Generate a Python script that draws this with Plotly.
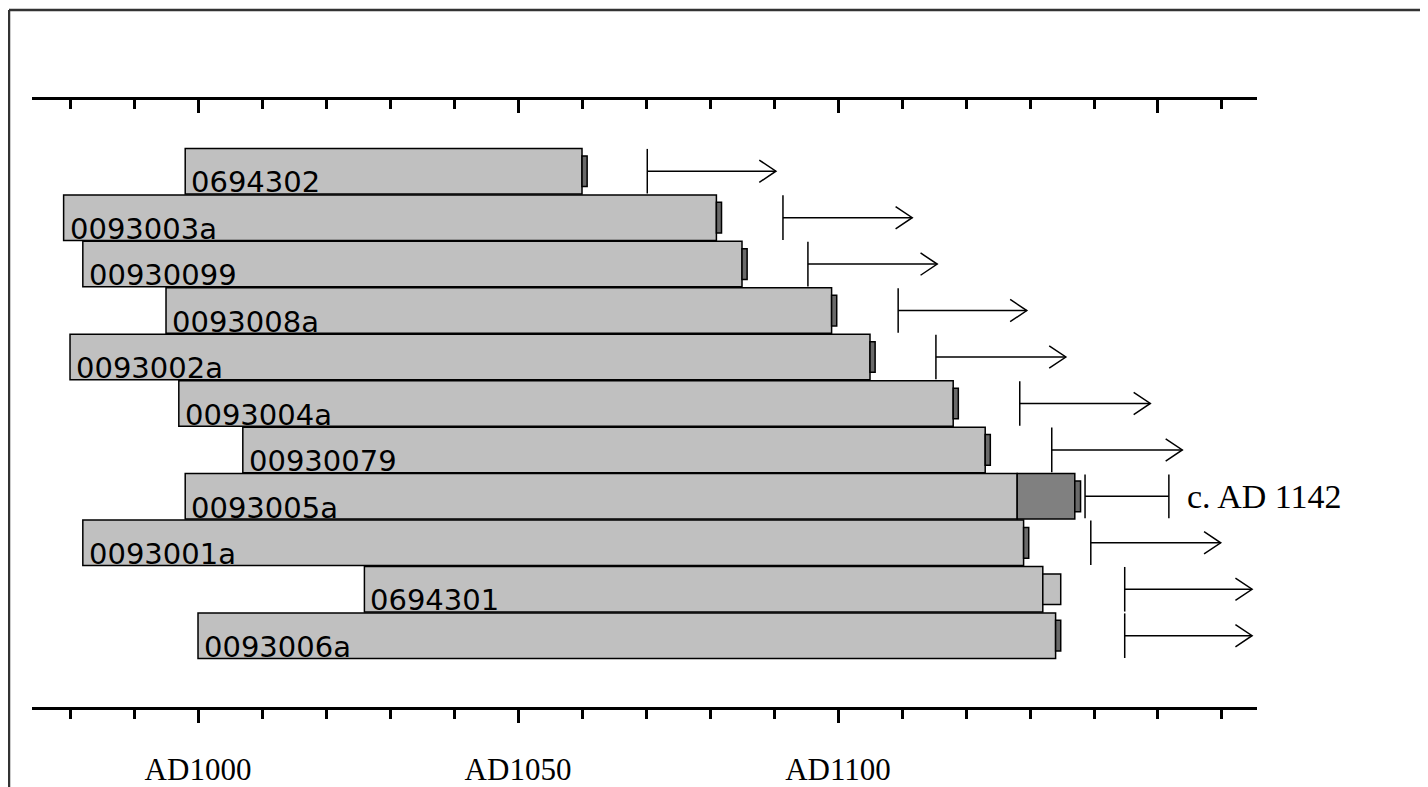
import plotly.graph_objects as go

# ---------------- data ----------------
sample_ids = ["0694302", "0093003a", "00930099", "0093008a", "0093002a", "0093004a",
              "00930079", "0093005a", "0093001a", "0694301", "0093006a"]
first_ring = [998, 979, 982, 995, 980, 997, 1007, 998, 982, 1026, 1000]
heartwood_end = [1060, 1081, 1085, 1099, 1105, 1118, 1123, 1128, 1129, 1132, 1134]

sapwood_rows = [7]
sapwood_start = [1128]
sapwood_end = [1137]

# small end-marker blocks (years)
marker_start = [1060, 1081, 1085, 1099, 1105, 1118, 1123, 1137, 1129, 1132, 1134]
marker_len = [0.8, 0.8, 0.8, 0.8, 0.8, 0.8, 0.8, 0.9, 0.8, 2.8, 0.8]

# terminus-post-quem arrows
arrow_rows = [0, 1, 2, 3, 4, 5, 6, 8, 9, 10]
arrow_start = [1070.2, 1091.4, 1095.3, 1109.4, 1115.3, 1128.4, 1133.4, 1139.5, 1144.8, 1144.8]
arrow_end = [1090.3, 1111.6, 1115.5, 1129.5, 1135.6, 1148.8, 1153.8, 1159.8, 1164.7, 1164.7]

# felling date range
felling_row = 7
felling_range = [1138.6, 1151.7]
felling_label = "c. AD 1142"

tick_years = [1000, 1050, 1100, 1150]
tick_labels = ["AD1000", "AD1050", "AD1100", ""]
minor_years = list(range(980, 1161, 10))

rows = list(range(len(sample_ids)))

# ---------------- figure ----------------
fig = go.Figure()

fig.add_trace(go.Bar(
    orientation="h", y=rows, base=first_ring,
    x=[e - s for s, e in zip(first_ring, heartwood_end)],
    width=0.98, marker=dict(color="#c0c0c0", line=dict(color="black", width=1.5)),
    hoverinfo="skip", showlegend=False))

fig.add_trace(go.Bar(
    orientation="h", y=sapwood_rows, base=sapwood_start,
    x=[e - s for s, e in zip(sapwood_start, sapwood_end)],
    width=0.98, marker=dict(color="#808080", line=dict(color="black", width=1.5)),
    hoverinfo="skip", showlegend=False))

marker_colors = ["#c0c0c0" if w > 2 else "#6a6a6a" for w in marker_len]
fig.add_trace(go.Bar(
    orientation="h", y=rows, base=marker_start, x=marker_len,
    width=0.66, marker=dict(color=marker_colors, line=dict(color="black", width=1.5)),
    hoverinfo="skip", showlegend=False))

# arrows: vertical start bar + shaft
lx, ly = [], []
for r, s, e in zip(arrow_rows, arrow_start, arrow_end):
    lx += [s, s, None, s, e, None]
    ly += [r - 0.48, r + 0.48, None, r, r, None]
# felling range
fs, fe = felling_range
lx += [fs, fs, None, fs, fe, None, fe, fe, None]
ly += [felling_row - 0.47, felling_row + 0.47, None, felling_row, felling_row, None,
       felling_row - 0.47, felling_row + 0.47, None]
fig.add_trace(go.Scatter(x=lx, y=ly, mode="lines", line=dict(color="black", width=1.5),
                         hoverinfo="skip", showlegend=False))

# open arrow heads
hx, hy = [], []
for r, e in zip(arrow_rows, arrow_end):
    hx += [e - 2.6, e, e - 2.6, None]
    hy += [r - 0.24, r, r + 0.24, None]
fig.add_trace(go.Scatter(x=hx, y=hy, mode="lines", line=dict(color="black", width=1.5),
                         hoverinfo="skip", showlegend=False))

annotations = []
for r, s, name in zip(rows, first_ring, sample_ids):
    annotations.append(dict(
        x=s, y=r + 0.5, xref="x", yref="y", text=name, showarrow=False,
        xanchor="left", yanchor="bottom", xshift=4, yshift=-7,
        font=dict(family="DejaVu Sans", size=29, color="black")))
annotations.append(dict(
    x=felling_range[1], y=felling_row, xref="x", yref="y", text=felling_label,
    showarrow=False, xanchor="left", yanchor="middle", xshift=16,
    font=dict(family="Liberation Serif", size=34, color="black")))

# page body adds an 8px offset; coordinates below are figure pixels
OFF = 8
W, H = 1428 - OFF, 787 - OFF
L, R, T, B = 32 - OFF, (W + OFF) - 1257, 100 - OFF, (H + OFF) - 707
pw, ph = W - L - R, H - T - B
px = lambda p: (p - OFF - L) / pw
py = lambda p: (H - B - (p - OFF)) / ph

shapes = [
    dict(type="line", xref="paper", yref="paper", x0=px(9), x1=px(9), y0=py(800), y1=py(10),
         line=dict(color="#333333", width=2.5)),
    dict(type="line", xref="paper", yref="paper", x0=px(9), x1=px(1440), y0=py(10), y1=py(10),
         line=dict(color="#333333", width=2.5)),
]

x_range = [974.06, 1165.47]
axis_common = dict(
    range=x_range, showgrid=False, zeroline=False, showline=True, linecolor="black",
    linewidth=3, tickmode="array", tickvals=tick_years, ticklen=13, tickwidth=2.5,
    tickcolor="black", automargin=False,
)

fig.update_layout(
    width=W, height=H, margin=dict(l=L, r=R, t=T, b=B),
    paper_bgcolor="white", plot_bgcolor="white", barmode="overlay",
    xaxis=dict(**axis_common, ticks="outside", ticktext=tick_labels, side="bottom",
               ticklabelstandoff=20,
               tickfont=dict(family="Liberation Serif", size=31, color="black"),
               minor=dict(tickmode="array", tickvals=minor_years, ticks="outside",
                          ticklen=9, tickwidth=2.5, tickcolor="black")),
    xaxis2=dict(**axis_common, ticks="inside", showticklabels=False, side="top",
                overlaying="x", matches="x",
                minor=dict(tickmode="array", tickvals=minor_years, ticks="inside",
                           ticklen=9, tickwidth=2.5, tickcolor="black")),
    yaxis=dict(range=[11.535, -1.533], showgrid=False, zeroline=False, showline=False,
               showticklabels=False, ticks="", automargin=False),
    annotations=annotations, shapes=shapes,
)
# dummy trace to activate the top axis
fig.add_trace(go.Scatter(x=[x_range[0]], y=[-1.5], xaxis="x2", mode="markers",
                         marker=dict(opacity=0), hoverinfo="skip", showlegend=False))

fig.write_html("out.html")
